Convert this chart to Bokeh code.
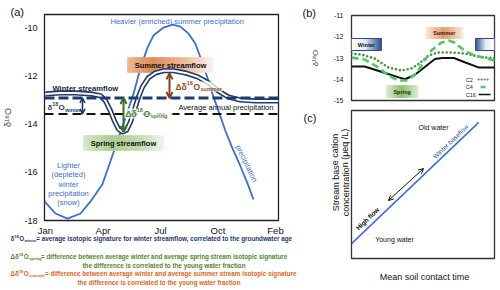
from bokeh.plotting import figure
from bokeh.layouts import row, column
from bokeh.models import Label, Arrow, OpenHead, Span, BoxAnnotation, FixedTicker, GridBox, Range1d
from bokeh.embed import file_html
from bokeh.resources import INLINE

FONT = "Liberation Sans"

# ---------------- data ----------------
month_ticks = [0, 3, 6, 9, 12]
month_labels = ["Jan", "Apr", "Jul", "Oct", "Feb"]
a_yticks = [-18, -16, -14, -12, -10]
a_ylabels = ["-18", "-16", "-14", "-12", "-10"]

precip_x = [-0.05, 0.52, 1.15, 1.83, 2.35, 2.97, 3.39, 3.81, 4.17, 4.59, 4.96, 5.32, 5.63, 6.16,
            6.63, 7.04, 7.46, 7.82, 8.09, 8.45, 8.71, 8.97, 9.39, 9.75, 10.17, 10.54, 10.85]
precip_y = [-17.21, -17.71, -17.92, -17.71, -17.21, -16.5, -15.54, -14.58, -13.75, -12.75, -11.67,
            -10.83, -10.33, -10.0, -9.88, -9.96, -10.25, -10.67, -11.25, -12.08, -12.75, -13.33,
            -14.29, -15.0, -15.75, -16.46, -17.13]

stream_x = [0.0, 0.78, 1.56, 2.35, 2.87, 3.13, 3.39, 3.6, 3.81, 4.02, 4.23, 4.43, 4.64, 4.85, 5.06,
            5.37, 5.74, 6.16, 6.68, 7.3, 7.93, 8.5, 9.02, 9.55, 10.17, 10.95, 12.15]
stream_y = [-12.75, -12.71, -12.71, -12.75, -12.83, -13.04, -13.46, -13.88, -14.21, -14.33, -14.25,
            -13.92, -13.42, -12.88, -12.46, -12.08, -11.88, -11.79, -11.79, -11.88, -12.04, -12.29,
            -12.63, -12.88, -13.0, -13.04, -13.04]

winter_mean = -12.92
annual_mean = -13.58
spring_low = -14.33
summer_high = -11.9

b_yticks = [-15, -14, -13, -12, -11]
b_ylabels = ["-15", "-14", "-13", "-12", "-11"]

c2_x = [0, 0.84, 1.93, 3.1, 4.2, 5.03, 5.7, 6.46, 7.3, 8.39, 9.48, 10.66, 12]
c2_y = [-12.79, -12.84, -13.02, -13.45, -13.59, -13.49, -13.26, -12.88, -12.74, -12.74, -12.79, -12.93, -13.02]
c4_x = [0, 1.09, 2.27, 3.1, 3.94, 4.62, 5.45, 6.13, 6.71, 7.55, 8.14, 8.64, 9.48, 10.32, 12]
c4_y = [-12.98, -13.07, -13.45, -13.82, -14.06, -14.06, -13.73, -13.12, -12.65, -12.27, -12.18, -12.27,
        -12.65, -12.88, -13.12]
c16_x = [0, 1.1, 2.5, 3.9, 4.5, 5.3, 6.1, 7.0, 7.6, 8.6, 9.5, 10.7, 12]
c16_y = [-13.4, -13.4, -13.65, -13.9, -14.0, -13.8, -13.45, -13.05, -13.0, -13.0, -13.2, -13.45, -13.45]

c_line_x = [0.0, 0.89]
c_line_y = [0.10, 0.92]

# ---------------- styles ----------------
NAVY = "#1f3a6e"
BLUE = "#3a6fd6"
GREEN_D = "#3b6e1e"
GREEN_T = "#4d8a2a"
BROWN = "#8b3e0f"
ORANGE_T = "#e0661a"

AW = {' ': 278, '!': 278, '(': 333, ')': 333, ',': 278, '-': 333, '.': 278, '/': 278, '=': 584,
      '0': 556, '1': 556, '2': 556, '3': 556, '4': 556, '5': 556, '6': 556, '7': 556, '8': 556, '9': 556,
      'A': 667, 'B': 667, 'C': 722, 'D': 722, 'E': 667, 'F': 611, 'G': 778, 'H': 722, 'I': 278, 'J': 500,
      'K': 667, 'L': 556, 'M': 833, 'N': 722, 'O': 778, 'P': 667, 'Q': 778, 'R': 722, 'S': 667, 'T': 611,
      'U': 722, 'V': 667, 'W': 944, 'X': 667, 'Y': 667, 'Z': 611,
      'a': 556, 'b': 556, 'c': 500, 'd': 556, 'e': 556, 'f': 278, 'g': 556, 'h': 556, 'i': 222, 'j': 222,
      'k': 500, 'l': 222, 'm': 833, 'n': 556, 'o': 556, 'p': 556, 'q': 556, 'r': 333, 's': 500, 't': 278,
      'u': 556, 'v': 500, 'w': 722, 'x': 500, 'y': 500, 'z': 500, 'δ': 556, 'Δ': 668, 'μ': 576}


def text_w(s, size, bold=False):
    return sum(AW.get(c, 556) for c in s) / 1000.0 * size * (1.08 if bold else 1.0)


def hex2rgb(h):
    h = h.lstrip('#')
    return tuple(int(h[i:i + 2], 16) for i in (0, 2, 4))


def grad(stops, n):
    out = []
    for k in range(n):
        t = (k + 0.5) / n
        for (t0, c0), (t1, c1) in zip(stops[:-1], stops[1:]):
            if t0 <= t <= t1:
                u = (t - t0) / (t1 - t0)
                a, b = hex2rgb(c0), hex2rgb(c1)
                rgb = [round(a[i] + (b[i] - a[i]) * u) for i in range(3)]
                out.append("#%02x%02x%02x" % tuple(rgb))
                break
    return out


def grad_box(p, x0, x1, y0, y1, stops, n=30, border=None):
    w = (x1 - x0) / n
    lefts = [x0 + k * w for k in range(n)]
    rights = [x0 + (k + 1) * w for k in range(n)]
    cols = grad(stops, n)
    p.quad(left=lefts, right=rights, bottom=y0, top=y1, fill_color=cols, line_color=cols, line_width=0.6)
    if border:
        p.quad(left=x0, right=x1, bottom=y0, top=y1, fill_color=None, line_color=border, line_width=1)


def mapper(frame, rng):
    L, R, T, B = frame
    x0, x1, y0, y1 = rng
    return (lambda px: x0 + (px - L) / (R - L) * (x1 - x0),
            lambda py: y0 + (B - py) / (B - T) * (y1 - y0))


def lab(p, x, y, text, size, color="#111111", bold=False, align="left", angle=0.0):
    p.add_layout(Label(x=x, y=y, text=text, text_font=FONT, text_font_size=f"{size}px",
                       text_color=color, text_font_style="bold" if bold else "normal",
                       text_align=align, text_baseline="middle", angle=angle))


def compose(p, fx, fy, left, cy, pieces, color, bold=False):
    cur = left
    for txt, size, dy in pieces:
        lab(p, fx(cur), fy(cy - dy), txt, size, color, bold)
        cur += text_w(txt, size, bold)


def iso(F, name, lead="δ"):
    s = round(F * 0.65, 2)
    return [(lead, F, 0), ("18", s, 0.38 * F), ("O", F, 0), (name, s, -0.3 * F)]


def style_fig(p, outline="#222222"):
    p.xgrid.visible = False
    p.ygrid.visible = False
    p.outline_line_color = outline
    p.outline_line_width = 1.3
    p.background_fill_color = "white"
    p.border_fill_color = "white"


def style_axis(ax, size, standoff):
    ax.major_tick_out = 0
    ax.major_tick_in = 0
    ax.minor_tick_out = 0
    ax.minor_tick_in = 0
    ax.axis_line_color = None
    ax.major_label_text_font = FONT
    ax.major_label_text_font_size = f"{size}px"
    ax.major_label_text_color = "#111111"
    ax.major_label_standoff = standoff


# ---------------- panel (a) ----------------
A_FRAME = (44, 278, 14, 220)
A_RNG = (-0.052, 12.157, -18.0, -9.458)
pa = figure(width=298, height=290, x_range=A_RNG[:2], y_range=A_RNG[2:], title=None,
            output_backend="svg", toolbar_location=None,
            min_border_left=44, min_border_right=20, min_border_top=14, min_border_bottom=70)
style_fig(pa)
xa = pa.xaxis[0]
xa.ticker = FixedTicker(ticks=month_ticks)
xa.major_label_overrides = dict(zip(month_ticks, month_labels))
style_axis(xa, 9.5, 4)
ya = pa.yaxis[0]
ya.ticker = FixedTicker(ticks=a_yticks)
ya.major_label_overrides = dict(zip(a_yticks, a_ylabels))
style_axis(ya, 9, 7)
ya.axis_label = "δ¹⁸O"
ya.axis_label_text_font = FONT
ya.axis_label_text_font_size = "9px"
ya.axis_label_text_font_style = "normal"
ya.axis_label_standoff = 8

fx, fy = mapper(A_FRAME, A_RNG)

pa.line(precip_x, precip_y, line_color=BLUE, line_width=1.8, line_join="round")
grad_box(pa, fx(127), fx(212), fy(72), fy(57),
         [(0, "#f0b894"), (0.3, "#dc8a58"), (0.6, "#eab08c"), (1, "#fdf1ea")])
grad_box(pa, fx(83), fx(163), fy(150), fy(135),
         [(0, "#d6e9c8"), (0.35, "#a9cd8e"), (0.7, "#c0dbab"), (1, "#eef6ea")])
pa.line(stream_x, stream_y, line_color=NAVY, line_width=5.2, line_join="round")
pa.line(stream_x, stream_y, line_color="white", line_width=2.0, line_join="round")

pa.add_layout(Span(location=winter_mean, dimension="width", line_color=NAVY, line_width=3.2,
                   line_dash="10 4"))
pa.add_layout(Span(location=annual_mean, dimension="width", line_color="#111111", line_width=2,
                   line_dash="9 5"))
pa.add_layout(BoxAnnotation(left=fx(124), right=fx(172), bottom=fy(118), top=fy(108),
                            fill_color="white", fill_alpha=0.8, line_color=None))
pa.add_layout(BoxAnnotation(left=fx(174), right=fx(222), bottom=fy(91), top=fy(81),
                            fill_color="white", fill_alpha=0.75, line_color=None))

pa.add_layout(Arrow(x_start=fx(82), y_start=winter_mean, x_end=fx(82), y_end=annual_mean,
                    line_color=NAVY, line_width=1.6,
                    start=OpenHead(size=5, line_color=NAVY, line_width=1.6),
                    end=OpenHead(size=5, line_color=NAVY, line_width=1.6)))
pa.add_layout(Arrow(x_start=fx(123), y_start=winter_mean, x_end=fx(123), y_end=spring_low,
                    line_color=GREEN_D, line_width=2,
                    start=OpenHead(size=6, line_color=GREEN_D, line_width=2),
                    end=OpenHead(size=6, line_color=GREEN_D, line_width=2)))
pa.add_layout(Arrow(x_start=fx(169), y_start=summer_high, x_end=fx(169), y_end=winter_mean,
                    line_color=BROWN, line_width=2,
                    start=OpenHead(size=6, line_color=BROWN, line_width=2),
                    end=OpenHead(size=6, line_color=BROWN, line_width=2)))

lab(pa, fx(110), fy(21), "Heavier (enriched) summer precipitation", 7.5, BLUE)
lab(pa, fx(52), fy(87.5), "Winter streamflow", 7.6, "#1c2540", bold=True)
compose(pa, fx, fy, 47, 107, iso(8, "winter"), NAVY, bold=True)
compose(pa, fx, fy, 125, 113, iso(8.5, "spring", "Δδ"), GREEN_T, bold=True)
compose(pa, fx, fy, 175, 86, iso(8.5, "summer", "Δδ"), "#a0481a", bold=True)
lab(pa, fx(170), fy(64.5), "Summer streamflow", 7.5, "#111111", bold=True, align="center")
lab(pa, fx(123), fy(142.5), "Spring streamflow", 7.5, "#111111", bold=True, align="center")
lab(pa, fx(178), fy(107), "Average annual precipitation", 7.5, "#111111")
for yy, t in zip([165, 174, 183.5, 193, 202], ["Lighter", "(depleted)", "winter", "precipitation", "(snow)"]):
    lab(pa, fx(68), fy(yy), t, 7.5, BLUE, align="center")
lab(pa, fx(246), fy(163), "precipitation", 7.5, BLUE, align="center", angle=-1.117)

# ---------------- panel (b) ----------------
B_FRAME = (350, 494, 15, 100)
B_RNG = (0.0, 12.0, -15.0, -11.0)
pb = figure(width=202, height=106, x_range=B_RNG[:2], y_range=B_RNG[2:], title=None,
            x_axis_location=None, output_backend="svg", toolbar_location=None,
            min_border_left=52, min_border_right=6, min_border_top=15, min_border_bottom=6)
style_fig(pb, "#333333")
yb = pb.yaxis[0]
yb.ticker = FixedTicker(ticks=b_yticks)
yb.major_label_overrides = dict(zip(b_yticks, b_ylabels))
style_axis(yb, 7, 8)
yb.axis_label = "δ¹⁸O"
yb.axis_label_text_font = FONT
yb.axis_label_text_font_size = "8px"
yb.axis_label_text_font_style = "normal"
yb.axis_label_standoff = 10
gx, gy = mapper(B_FRAME, B_RNG)

grad_box(pb, gx(350), gx(380), gy(50), gy(38), [(0, "#ffffff"), (0.45, "#e6ecf6"), (1, "#2a4a8c")],
         border="#2a4a8c")
grad_box(pb, gx(475), gx(494), gy(50), gy(38), [(0, "#2a4a8c"), (0.55, "#e6ecf6"), (1, "#ffffff")],
         border="#2a4a8c")
grad_box(pb, gx(425), gx(462), gy(38), gy(27), [(0, "#fbe6d8"), (0.5, "#e29764"), (1, "#fbe6d8")])
grad_box(pb, gx(385), gx(417), gy(97), gy(85), [(0, "#dcebd2"), (0.5, "#8cbd6c"), (1, "#dcebd2")])

pb.line(c16_x, c16_y, line_color="#111111", line_width=2)
pb.line(c2_x, c2_y, line_color="#3c9a3c", line_width=2.6, line_dash="0 4", line_cap="round")
pb.line(c4_x, c4_y, line_color="#55c465", line_width=2.6, line_dash="7 4")

lab(pb, gx(365), gy(44), "Winter", 5.5, "#111111", bold=True, align="center")
lab(pb, gx(443.5), gy(32.5), "Summer", 5.5, "#3a1a0a", bold=True, align="center")
lab(pb, gx(401), gy(91), "Spring", 5.5, "#1a2a10", bold=True, align="center")

leg = [("C2", 79, 478, dict(line_color="#3c9a3c", line_width=2.2, line_dash="0 3", line_cap="round")),
       ("C4", 86.5, 480, dict(line_color="#55c465", line_width=2.4)),
       ("C16", 94, 478, dict(line_color="#111111", line_width=1.6))]
for name, yy, x0, st in leg:
    lab(pb, gx(465), gy(yy), name, 5.5, "#222222")
    x1 = 485 if name == "C4" else 490
    pb.line([gx(x0), gx(x1)], [gy(yy), gy(yy)], **st)

# ---------------- panel (c) ----------------
C_FRAME = (351, 494, 110, 258)
C_RNG = (0.0, 1.0, 0.0, 1.0)
pc = figure(width=202, height=184, x_range=C_RNG[:2], y_range=C_RNG[2:], title=None,
            x_axis_location=None, y_axis_location=None, output_backend="svg", toolbar_location=None,
            min_border_left=53, min_border_right=6, min_border_top=4, min_border_bottom=32)
style_fig(pc, "#333333")
hx, hy = mapper(C_FRAME, C_RNG)
pc.line(c_line_x, c_line_y, line_color=BLUE, line_width=1.6)
pc.add_layout(Arrow(x_start=hx(388), y_start=hy(200), x_end=hx(423), y_end=hy(168),
                    line_color="#111111", line_width=1,
                    start=OpenHead(size=5, line_color="#111111", line_width=1),
                    end=OpenHead(size=5, line_color="#111111", line_width=1)))
lab(pc, hx(433), hy(127), "Old water", 7, "#111111", align="center")
lab(pc, hx(394), hy(239), "Young water", 7, "#111111", align="center")
lab(pc, hx(367), hy(218), "High flow", 6.5, "#111111", bold=True, align="center", angle=0.768)
lab(pc, hx(450), hy(141), "Winter baseflow", 6.5, "#2b4a8a", align="center", angle=0.768)

# ---------------- overlay for texts outside the panels ----------------
ov = figure(width=500, height=290, x_range=Range1d(0, 500), y_range=Range1d(290, 0), title=None,
            x_axis_location=None, y_axis_location=None, output_backend="svg", toolbar_location=None,
            min_border=0, min_border_left=0, min_border_right=0, min_border_top=0, min_border_bottom=0)
ov.grid.visible = False
ov.outline_line_color = None
ov.background_fill_alpha = 0
ov.border_fill_alpha = 0
ix = iy = (lambda v: v)

lab(ov, 10, 11, "(a)", 11)
lab(ov, 302, 12, "(b)", 11)
lab(ov, 303, 117, "(c)", 11)
lab(ov, 335, 172, "Stream base cation", 9, "#111111", align="center", angle=1.5708)
lab(ov, 345, 172, "concentration (μeq /L)", 9, "#111111", align="center", angle=1.5708)
lab(ov, 424, 276, "Mean soil contact time", 9, "#111111", align="center")

LF = 6.3
compose(ov, ix, iy, 10, 238, iso(LF, "winter") +
        [(" = average isotopic signature for winter streamflow, correlated to the groundwater age", LF, 0)],
        "#1f3864", bold=True)
compose(ov, ix, iy, 10, 256, iso(LF, "spring", "Δδ") +
        [(" = difference between average winter and average spring stream isotopic signature", LF, 0)],
        "#4f8a2a", bold=True)
lab(ov, 82, 264.5, "the difference is correlated to the young water fraction", LF, "#4f8a2a", bold=True)
compose(ov, ix, iy, 10, 273, iso(LF, "summer", "Δδ") +
        [(" = difference between average winter and average summer stream isotopic signature", LF, 0)],
        ORANGE_T, bold=True)
lab(ov, 77, 281.5, "the difference is correlated to the young water fraction", LF, ORANGE_T, bold=True)

panels = row(pa, column(pb, pc))
layout = GridBox(children=[(panels, 0, 0), (column(ov), 0, 0)])
open("out.html", "w").write(file_html(layout, INLINE))
